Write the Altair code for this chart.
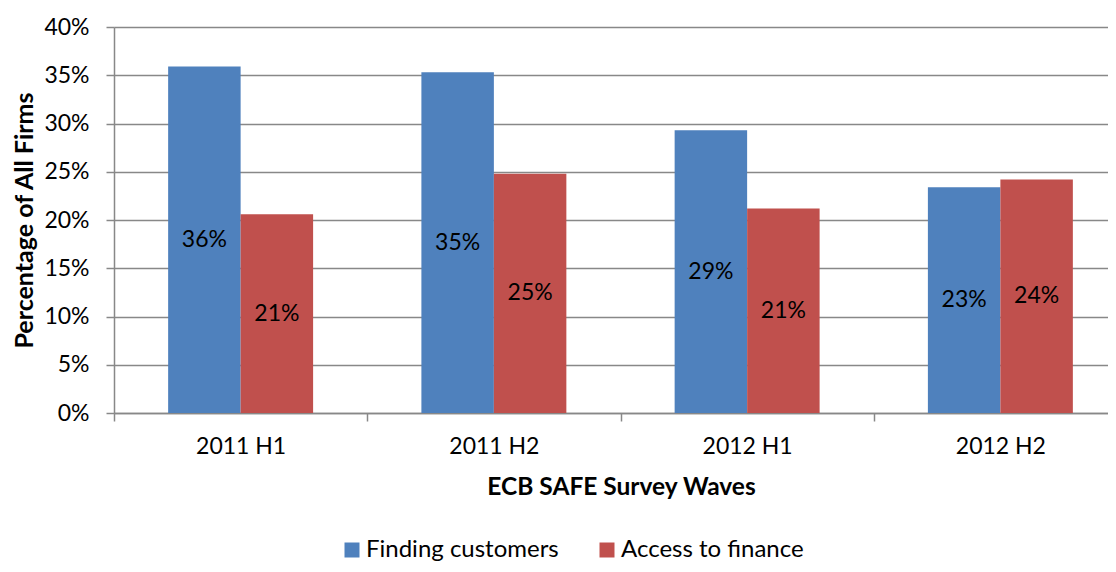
import altair as alt
import pandas as pd

waves = ["2011 H1", "2011 H2", "2012 H1", "2012 H2"]
series = ["Finding customers", "Access to finance"]
finding_customers = [0.359, 0.353, 0.293, 0.234]
access_to_finance = [0.206, 0.248, 0.212, 0.242]
colors = ["#4F81BD", "#C0504D"]
y_ticks = [0, 0.05, 0.10, 0.15, 0.20, 0.25, 0.30, 0.35, 0.40]

rows = []
for i, w in enumerate(waves):
    rows.append({"wave": w, "series": series[0], "value": finding_customers[i]})
    rows.append({"wave": w, "series": series[1], "value": access_to_finance[i]})
df = pd.DataFrame(rows)

FONT = "Lato"

x_enc = alt.X(
    "wave:N",
    sort=waves,
    scale=alt.Scale(paddingInner=0, paddingOuter=0),
    axis=alt.Axis(
        title="ECB SAFE Survey Waves",
        labelAngle=0,
        labelFontSize=23,
        labelColor="#000000",
        labelPadding=14,
        tickBand="extent",
        tickSize=8,
        tickColor="#888888",
        tickWidth=1.5,
        domainColor="#888888",
        domainWidth=1.5,
        grid=False,
        titleFontSize=24.5,
        titleFontWeight="bold",
        titleColor="#000000",
        titleX=507,
        titleY=74,
        titleBaseline="middle",
        titleAlign="center",
    ),
)
xoff_enc = alt.XOffset(
    "series:N",
    sort=series,
    scale=alt.Scale(paddingInner=0, paddingOuter=0.747),
)

base = alt.Chart(df).encode(x=x_enc, xOffset=xoff_enc)

bars = base.mark_bar(strokeWidth=0).encode(
    y=alt.Y(
        "value:Q",
        scale=alt.Scale(domain=[0, 0.4], nice=False),
        axis=alt.Axis(
            title="Percentage of All Firms",
            values=y_ticks,
            format=".0%",
            labelFontSize=23,
            labelColor="#000000",
            labelPadding=17,
            tickSize=8,
            tickColor="#888888",
            tickWidth=1.5,
            domainColor="#888888",
            domainWidth=1.5,
            grid=True,
            gridColor="#888888",
            gridWidth=1.5,
            titleFontSize=25,
            titleFontWeight="bold",
            titleColor="#000000",
            titleX=-90,
            titleY=193,
            titleAngle=270,
            titleAlign="center",
            titleBaseline="middle",
        ),
    ),
    color=alt.Color(
        "series:N",
        sort=series,
        scale=alt.Scale(domain=series, range=colors),
        legend=alt.Legend(
            title="",
            orient="none",
            legendX=226,
            legendY=511,
            direction="horizontal",
            columns=2,
            symbolType="square",
            symbolSize=225,
            symbolStrokeWidth=0,
            labelFontSize=24,
            labelColor="#000000",
            labelOffset=2,
            labelLimit=500,
            columnPadding=36,
            padding=0,
        ),
    ),
)

labels = base.transform_calculate(mid="datum.value / 2").mark_text(
    fontSize=23, color="#000000", baseline="middle", align="center"
).encode(
    y=alt.Y("mid:Q", scale=alt.Scale(domain=[0, 0.4], nice=False)),
    text=alt.Text("value:Q", format=".0%"),
)

chart = (
    alt.layer(bars, labels)
    .properties(
        width=1013,
        height=386,
        autosize=alt.AutoSizeParams(type="none"),
        padding={"left": 106, "top": 19, "right": -19, "bottom": 151},
    )
    .configure(font=FONT)
    .configure_view(stroke="transparent")
)

chart.save("out.html", embed_options={"renderer": "svg", "actions": False})
